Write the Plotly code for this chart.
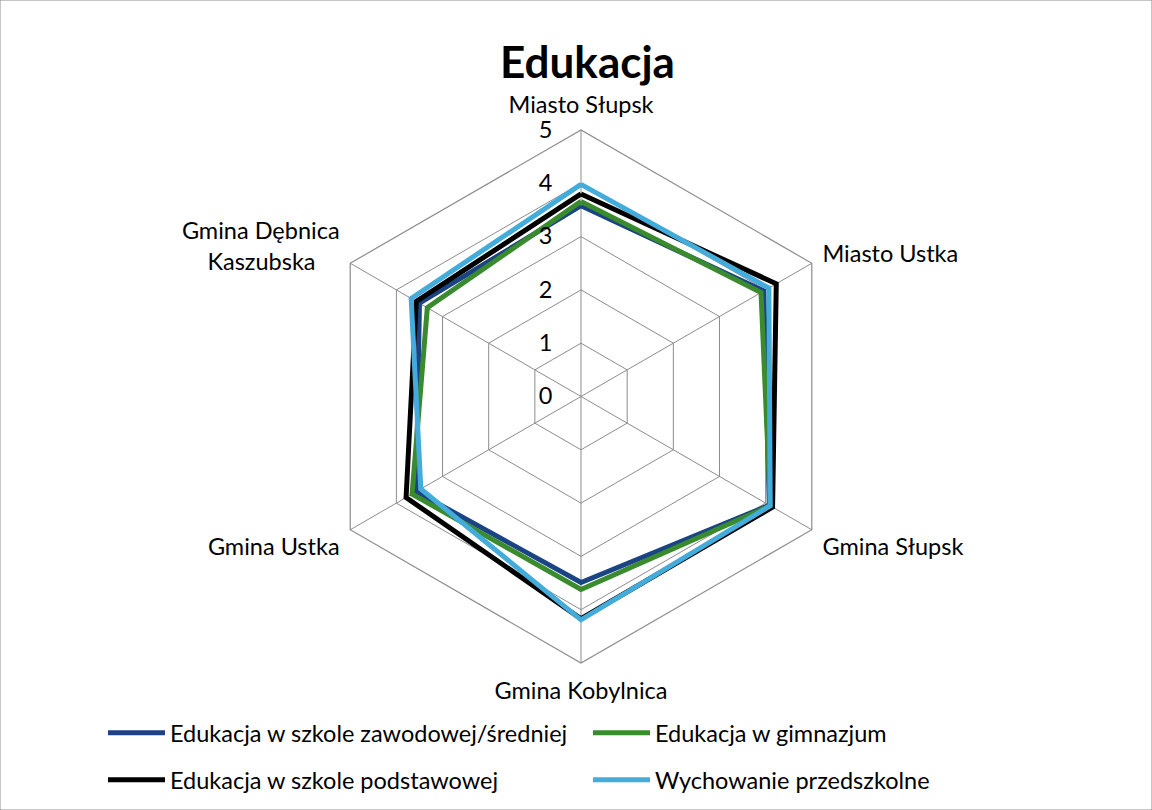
import plotly.graph_objects as go

### categories (clockwise from top) and series values
categories = ["Miasto Słupsk", "Miasto Ustka", "Gmina Słupsk", "Gmina Kobylnica",
              "Gmina Ustka", "Gmina Dębnica<br>Kaszubska" + "&nbsp;" * 4]

zawodowa = [3.58, 3.96, 4.08, 3.49, 3.57, 3.50]
gimnazjum = [3.66, 3.90, 4.10, 3.62, 3.66, 3.33]
podstawowa = [3.80, 4.23, 4.15, 4.17, 3.79, 3.57]
przedszkole = [3.98, 4.07, 4.10, 4.19, 3.47, 3.68]

series = [
    ("Edukacja w szkole zawodowej/średniej", zawodowa, "#1B4485", "legend"),
    ("Edukacja w gimnazjum", gimnazjum, "#398B2E", "legend"),
    ("Edukacja w szkole podstawowej", podstawowa, "#000000", "legend2"),
    ("Wychowanie przedszkolne", przedszkole, "#44ACDA", "legend2"),
]

FONT = "Lato"
FS = 23.5
GRID = "#8C8C8C"

fig = go.Figure()
for name, vals, col, leg in series:
    fig.add_trace(go.Scatterpolar(
        r=vals + vals[:1],
        theta=categories + categories[:1],
        mode="lines",
        name=name,
        line=dict(color=col, width=5),
        legend=leg,
    ))

legend_common = dict(orientation="h", xanchor="left", yanchor="middle",
                     entrywidth=413, entrywidthmode="pixels", itemwidth=57,
                     font=dict(size=FS), bgcolor="rgba(0,0,0,0)")

fig.update_layout(
    width=1152, height=810,
    margin=dict(t=0, l=0, r=0, b=0),
    paper_bgcolor="white",
    font=dict(family=FONT, size=FS, color="black"),
    title=dict(text="<b>Edukacja</b>", x=0.51, xanchor="center", y=0.923, yanchor="middle",
               font=dict(family=FONT, size=44, color="black")),
    polar=dict(
        domain=dict(x=[0.2730, 0.7357], y=[0.1815, 0.8395]),
        bgcolor="white",
        gridshape="linear",
        angularaxis=dict(rotation=90, direction="clockwise", gridcolor=GRID, linecolor=GRID,
                         showline=True, linewidth=1.2, ticks="outside", ticklen=7,
                         tickcolor="rgba(0,0,0,0)", tickfont=dict(size=FS)),
        radialaxis=dict(range=[0, 5], dtick=1, angle=90, tickangle=90, gridcolor=GRID,
                        showline=False, ticks="outside", ticklen=20,
                        tickcolor="rgba(0,0,0,0)", tickfont=dict(size=FS),
                        side="counterclockwise"),
    ),
    legend=dict(x=0.0894, y=0.095, **legend_common),
    legend2=dict(x=0.0894, y=0.037, **legend_common),
    shapes=[dict(type="rect", xref="paper", yref="paper", x0=0, x1=1, y0=0, y1=1,
                 line=dict(color="#8C8C8C", width=1))],
)

fig.write_html("out.html", config={"displayModeBar": False},
               post_script="document.body.style.margin='0';")
